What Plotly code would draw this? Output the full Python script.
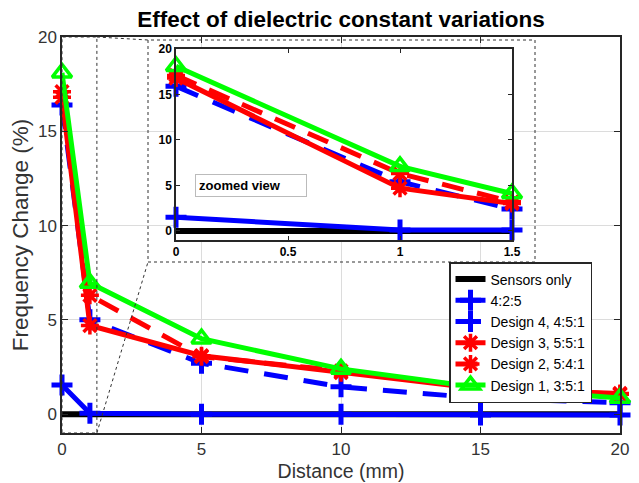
import plotly.graph_objects as go

# ---------------- data ----------------
distance = [0, 1, 5, 10, 15, 20]
sensors_only = [0, 0, 0, 0, 0, 0]
ratio_425 = [1.55, 0.05, 0.0, 0.0, -0.05, -0.05]
design4 = [16.4, 5.0, 2.7, 1.45, 0.85, 0.6]
design3 = [16.8, 4.7, 3.1, 2.2, 1.35, 1.1]
design2 = [17.1, 6.3, 3.05, 2.3, 1.4, 1.05]
design1 = [18.1, 6.95, 4.0, 2.4, 1.4, 0.85]

zoom_x = [0, 1, 1.5]
zoom_sensors = [0, 0, 0]
zoom_425 = [1.5, 0.1, 0.1]
zoom_d4 = [15.9, 5.4, 2.4]
zoom_d3 = [16.8, 4.7, 3.0]
zoom_d2 = [17.1, 6.3, 3.2]
zoom_d1 = [18.1, 7.1, 4.1]

names = ["Sensors only", "4:2:5", "Design 4, 4:5:1", "Design 3, 5:5:1",
         "Design 2, 5:4:1", "Design 1, 3:5:1"]
main_series = [sensors_only, ratio_425, design4, design3, design2, design1]
zoom_series = [zoom_sensors, zoom_425, zoom_d4, zoom_d3, zoom_d2, zoom_d1]

x_ticks = [0, 5, 10, 15, 20]
y_ticks = [0, 5, 10, 15, 20]
zoom_x_ticks = [0, 0.5, 1, 1.5]
x_range = [0, 20]
y_range = [-1, 20]
zoom_x_range = [0, 1.5]
zoom_rect_x = 1.25

# ---------------- styles ----------------
BLUE = "#0000ff"
RED = "#ff0000"
GREEN = "#00ff00"
styles = [
    dict(line=dict(color="black", width=6), mode="lines", marker=None),
    dict(line=dict(color=BLUE, width=5), mode="lines+markers",
         marker=dict(symbol="cross-thin", size=15, line=dict(color=BLUE, width=5))),
    dict(line=dict(color=BLUE, width=5, dash="24px,16px"), mode="lines+markers",
         marker=dict(symbol="cross-thin", size=15, line=dict(color=BLUE, width=5))),
    dict(line=dict(color=RED, width=5), mode="lines+markers",
         marker=dict(symbol="asterisk", size=15, line=dict(color=RED, width=3.5))),
    dict(line=dict(color=RED, width=5, dash="22px,14px"), mode="lines+markers",
         marker=dict(symbol="asterisk", size=15, line=dict(color=RED, width=3.5))),
    dict(line=dict(color=GREEN, width=5), mode="lines+markers",
         marker=dict(symbol="triangle-up-open", size=17, color=GREEN,
                     line=dict(color=GREEN, width=3.5))),
]

fig = go.Figure()
for name, ys, st in zip(names, main_series, styles):
    kw = dict(x=distance, y=ys, name=name, mode=st["mode"], line=st["line"],
              xaxis="x", yaxis="y", cliponaxis=False)
    if st["marker"]:
        kw["marker"] = st["marker"]
    fig.add_trace(go.Scatter(**kw))

for name, ys, st in zip(names, zoom_series, styles):
    kw = dict(x=zoom_x, y=ys, name=name, mode=st["mode"], line=st["line"],
              xaxis="x2", yaxis="y2", showlegend=False, cliponaxis=False)
    if st["marker"]:
        kw["marker"] = st["marker"]
    fig.add_trace(go.Scatter(**kw))

AX = "#262626"
TICK = "#333333"

# geometry (pixels) for the inset & zoom indicator
W, H = 639, 483
L, R, T, B = 62, 19, 37, 50
pw, ph = W - L - R, H - T - B

def px_x(p):
    return (p - L) / pw

def px_y(p):
    return (H - B - p) / ph

inset_dom_x = [px_x(176), px_x(512)]
inset_dom_y = [px_y(240), px_y(49)]
box = dict(x0=px_x(148), x1=px_x(535), y0=px_y(262), y1=px_y(40))
zx = (zoom_rect_x - x_range[0]) / (x_range[1] - x_range[0])

dash_line = dict(color="#333333", width=1, dash="3px,3px")
shapes = [
    dict(type="rect", xref="x", yref="y", x0=0, x1=zoom_rect_x, y0=y_range[0],
         y1=y_range[1], line=dash_line, layer="above"),
    dict(type="rect", xref="paper", yref="paper", **box, line=dash_line, layer="above"),
    dict(type="line", xref="paper", yref="paper", x0=zx, y0=1.0, x1=box["x0"],
         y1=box["y1"], line=dash_line, layer="above"),
    dict(type="line", xref="paper", yref="paper", x0=zx, y0=0.0, x1=box["x0"],
         y1=box["y0"], line=dash_line, layer="above"),
]

fig.update_layout(
    width=W, height=H,
    margin=dict(l=L, r=R, t=T, b=B),
    paper_bgcolor="white", plot_bgcolor="white",
    font=dict(family="Arial, Liberation Sans, sans-serif", color=AX),
    title=dict(text="<b>Effect of dielectric constant variations</b>",
               x=0.5, xref="paper", y=1 - 19 / H, yref="container",
               yanchor="middle", xanchor="center",
               font=dict(size=22.5, color="black")),
    xaxis=dict(domain=[0, 1], range=x_range, tickvals=x_ticks, ticks="inside",
               ticklen=6, tickcolor=AX, showline=True, mirror="ticks",
               linecolor=AX, linewidth=1.5, showgrid=True, gridcolor="#dcdcdc",
               gridwidth=1, zeroline=False, tickfont=dict(size=17, color=TICK),
               automargin=False,
               title=dict(text="Distance (mm)", font=dict(size=19.5, color=TICK),
                          standoff=6)),
    yaxis=dict(domain=[0, 1], range=y_range, tickvals=y_ticks, ticks="inside",
               ticklen=6, tickcolor=AX, showline=True, mirror="ticks",
               linecolor=AX, linewidth=1.5, showgrid=True, gridcolor="#dcdcdc",
               gridwidth=1, zeroline=False, tickfont=dict(size=17, color=TICK),
               automargin=False,
               title=dict(text="Frequency Change (%)", font=dict(size=22.5, color=TICK),
                          standoff=3)),
    xaxis2=dict(domain=inset_dom_x, anchor="y2", range=zoom_x_range,
                tickvals=zoom_x_ticks, ticks="inside", ticklen=4, tickcolor=AX,
                showline=True, mirror="ticks", linecolor=AX, linewidth=1.5,
                showgrid=False, zeroline=False, automargin=False,
                tickfont=dict(size=12, color="black", weight="bold")),
    yaxis2=dict(domain=inset_dom_y, anchor="x2", range=y_range, tickvals=y_ticks,
                ticks="inside", ticklen=4, tickcolor=AX, showline=True,
                mirror="ticks", linecolor=AX, linewidth=1.5, showgrid=False,
                zeroline=False, automargin=False,
                tickfont=dict(size=12, color="black", weight="bold")),
    legend=dict(x=px_x(449), xanchor="left", y=px_y(262), yanchor="top",
                bgcolor="white", bordercolor=AX, borderwidth=1.5,
                font=dict(size=14, color="black"), itemwidth=30, tracegroupgap=0,
                entrywidth=150, entrywidthmode="pixels"),
    shapes=shapes,
    annotations=[dict(text="<b>zoomed view</b>", xref="x2", yref="y2",
                      x=0.085, y=4.95, xanchor="left", yanchor="middle",
                      showarrow=False, align="left", width=104,
                      font=dict(size=13, color="black"),
                      bgcolor="white", bordercolor="#bbbbbb", borderwidth=1,
                      borderpad=3)],
)

fig.write_html("out.html", config={"displayModeBar": False},
               post_script="document.body.style.margin='0';")
